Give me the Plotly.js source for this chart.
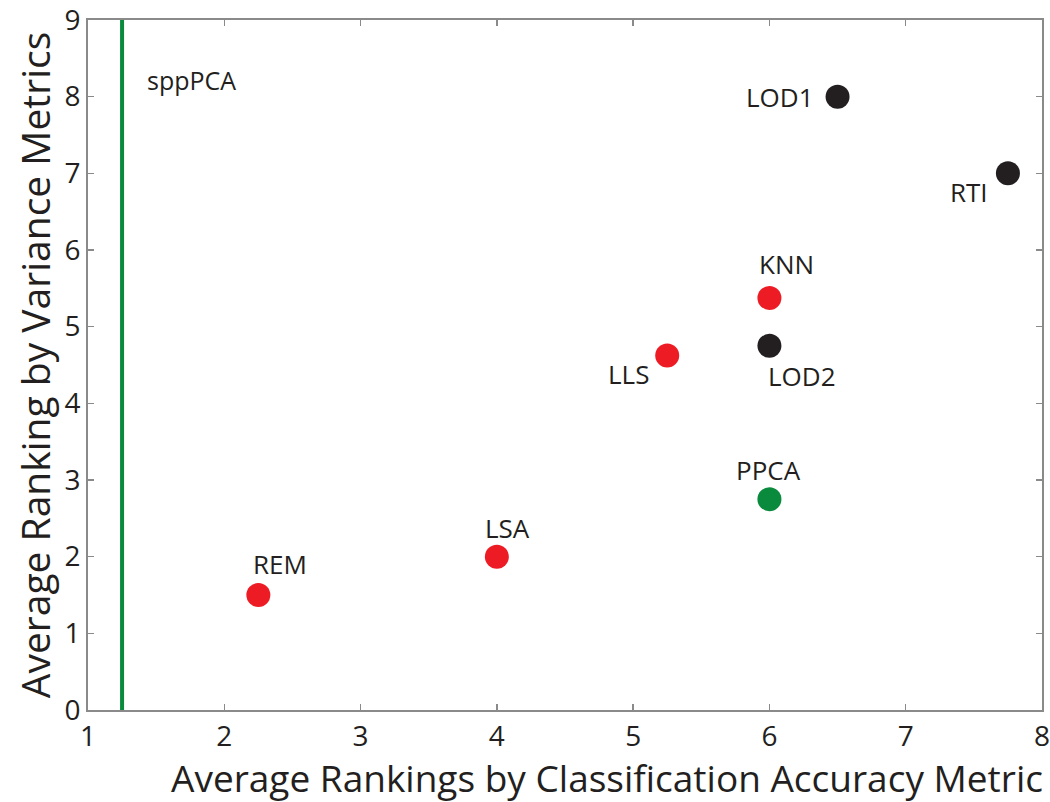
<!DOCTYPE html>
<html><head><meta charset="utf-8">
<script src="https://cdn.plot.ly/plotly-3.0.1.min.js"></script>
<style>body{margin:0;background:#fff}#chart{width:1050px;height:802px}</style>
</head><body><div id="chart"></div>
<script>
const methods = ["REM","LSA","LLS","KNN","LOD2","PPCA","LOD1","RTI"];
const classRank = [2.25, 4, 5.25, 6, 6, 6, 6.5, 7.75];
const varRank = [1.5, 2, 4.625, 5.375, 4.75, 2.75, 8, 7];
const groups = ["red","red","red","red","black","green","black","black"];
const sppPCAx = 1.25;
const sppPCAlabel = "sppPCA";
const xTicks = [1,2,3,4,5,6,7,8];
const yTicks = [0,1,2,3,4,5,6,7,8,9];
const xTitle = "Average Rankings by Classification Accuracy Metric";
const yTitle = "Average Ranking by Variance Metrics";

const colorMap = {red:"#ED1C24", black:"#231F20", green:"#0A8A3C"};
const FONT = "Open Sans";
// label offsets (px) relative to each point
const labelShift = {
  REM:[22,31], LSA:[11,29], LLS:[-39,-19], KNN:[17,34], LOD2:[33,-30],
  PPCA:[-1,29], LOD1:[-58,0], RTI:[-39,-19]
};

const traces = [{
  type:"scatter", mode:"lines", x:[sppPCAx,sppPCAx], y:[0,9],
  line:{color:"#0A8A3C", width:4}, showlegend:false
},{
  type:"scatter", mode:"markers", x:classRank, y:varRank,
  marker:{size:24, color:groups.map(g=>colorMap[g])},
  hoverinfo:"text", text:methods, showlegend:false
}];

const annotations = methods.map((m,i)=>({
  x:classRank[i], y:varRank[i], xref:"x", yref:"y", text:m, showarrow:false,
  xshift:labelShift[m][0], yshift:labelShift[m][1],
  font:{family:FONT, size:26, color:"#231F20"}
}));
annotations.push({x:sppPCAx, y:8.22, xref:"x", yref:"y", text:sppPCAlabel, showarrow:false,
  xanchor:"left", xshift:23, font:{family:FONT, size:25, color:"#231F20"}});
annotations.push({x:(607-88)/954, y:-(777-710)/690, xref:"paper", yref:"paper",
  text:xTitle, showarrow:false, xanchor:"center", yanchor:"middle",
  font:{family:FONT, size:37, color:"#231F20"}});

const axisCommon = {
  showgrid:false, zeroline:false, showline:true, linecolor:"#8a8a8a", linewidth:2,
  mirror:"ticks", ticks:"inside", ticklen:6, tickcolor:"#8a8a8a", tickwidth:1.5,
  ticklabeloverflow:"allow",
  tickfont:{family:FONT, size:28, color:"#231F20"}
};

const layout = {
  width:1050, height:802, paper_bgcolor:"#fff", plot_bgcolor:"#fff",
  margin:{l:88, r:8, t:20, b:92},
  xaxis:Object.assign({}, axisCommon, {range:[1,8.0001], tickvals:xTicks}),
  yaxis:Object.assign({}, axisCommon, {range:[0,9.0001], tickvals:yTicks,
    title:{text:yTitle, standoff:2,
      font:{family:FONT, size:39, color:"#231F20"}}}),
  annotations:annotations
};
Plotly.newPlot("chart", traces, layout, {displayModeBar:false, staticPlot:true});
</script></body></html>
